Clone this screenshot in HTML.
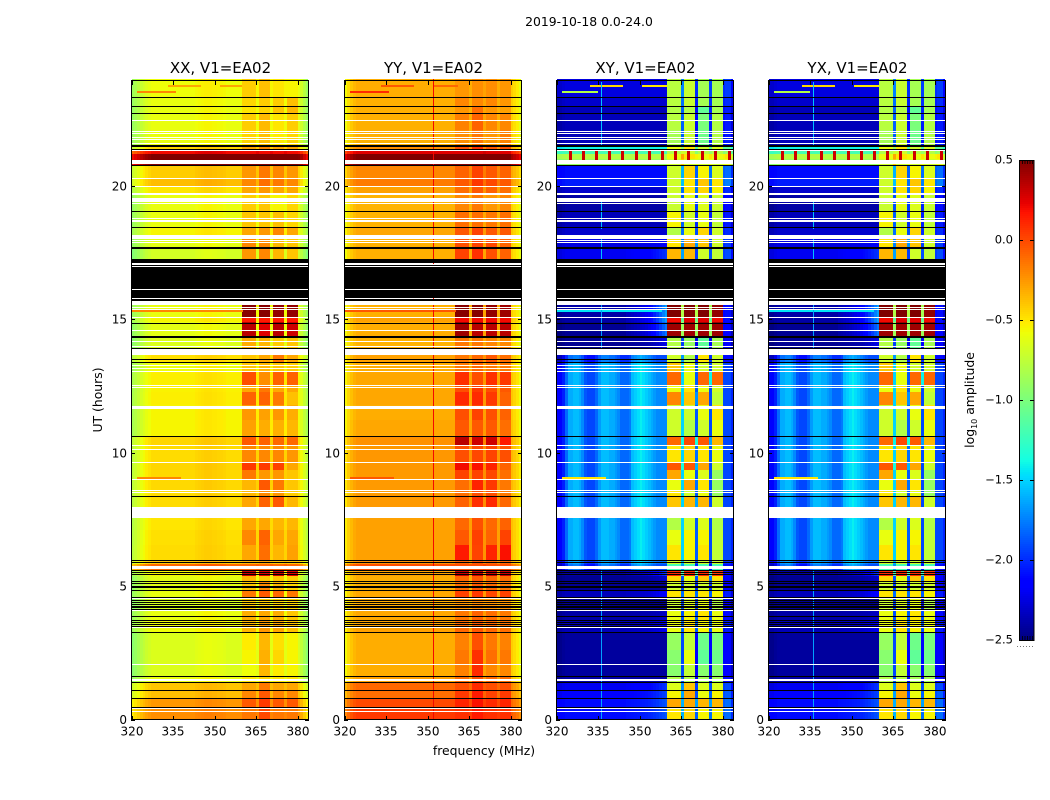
<!DOCTYPE html>
<html>
<head>
<meta charset="utf-8">
<title>2019-10-18 0.0-24.0</title>
<style>
html,body{margin:0;padding:0;background:#fff;width:1050px;height:800px;overflow:hidden}
svg{display:block}
text{font-family:"DejaVu Sans","Liberation Sans",sans-serif;fill:#000}
.tick{font-size:12px}
.title{font-size:15px}
.label{font-size:12.4px}
</style>
</head>
<body>
<svg id="chart" width="1050" height="800" viewBox="0 0 1050 800" xmlns="http://www.w3.org/2000/svg">
<rect x="0" y="0" width="1050" height="800" fill="#fff"/>
<text x="589" y="26" text-anchor="middle" style="font-size:12.4px">2019-10-18 0.0-24.0</text>
<text x="0" y="0" class="label" text-anchor="middle" transform="translate(102,400) rotate(-90)">UT (hours)</text>
<text x="484" y="755" class="label" text-anchor="middle">frequency (MHz)</text>
<text x="0" y="0" class="label" text-anchor="middle" transform="translate(974,400) rotate(-90)">log<tspan dy="3" style="font-size:8px">10</tspan><tspan dy="-3"> amplitude</tspan></text>
<g id="panels"></g>
<g id="colorbar"></g>
</svg>
<script>
// ---- Axis tick data ----
const xTickValues = [320, 335, 350, 365, 380];
const yTickValues = [0, 5, 10, 15, 20];
const colorbarTicks = [0.5, 0, -0.5, -1, -1.5, -2, -2.5];
const colorbarLabels = ["0.5", "0.0", "\u22120.5", "\u22121.0", "\u22121.5", "\u22122.0", "\u22122.5"];

// ---- Time rows: edges in UT hours, top to bottom ----
const rowEdges = [24,23.33,23,22.73,22.1,21.53,21.35,21.2,21,20.78,20.3,20,19.7,19.06,18.46,18.16,17.71,17.26,15.69,15.54,15.05,14.9,14.38,13.92,13.66,13.4,13.03,12.54,12.27,11.79,11.23,10.63,10.29,9.65,9.35,8.98,8.6,8.34,7.96,7.55,7.1,6.54,5.98,5.83,5.6,5.38,5.19,4.85,4.55,4.1,3.69,3.28,2.6,2.08,1.63,1.41,1.11,0.81,0.47,0];

// ---- Frequency channels (1 MHz each, from 320 MHz); subband index of each channel, -1 = none ----
const firstChannelMHz = 320;
const subbandOfChannel = [-1,-1,-1,-1,-1,-1,-1,-1,-1,-1,-1,-1,-1,-1,-1,-1,-1,-1,-1,-1,-1,-1,-1,-1,-1,-1,-1,-1,-1,-1,-1,-1,-1,-1,-1,-1,-1,-1,-1,-1,0,0,0,0,0,-1,1,1,1,1,-1,2,2,2,2,-1,3,3,3,3,-1,-1,-1,-1];

// ---- XX: log10 amplitude ----
const xxSpectrum = [-.3,-.25,-.2,-.14,-.1,-.06,-.03,0,0,0,0,0,0,0,0,0,0,0,0,0,0,0,0,.02,.03,.04,.05,.05,.05,.04,.04,.03,.03,.02,0,0,0,0,0,0,0,0,0,0,0,.03,0,0,0,0,.03,0,0,0,0,.03,0,0,0,0,-.02,-.1,-.2,-.3];
const xxRowLevels = [-.58,-.6,-.6,-.6,-.6,-.45,.2,.5,.5,-.42,-.37,-.5,-.6,-.6,-.55,-.62,-.68,null,null,-.6,-.55,-.62,-.65,null,-.48,-.58,-.53,-.54,-.53,-.55,-.55,-.45,-.47,-.45,-.46,-.46,-.47,-.47,null,-.5,-.48,-.47,-.4,-.1,-.55,-.62,-.62,-.6,-.65,-.6,-.58,-.65,-.65,-.65,-.6,-.4,-.38,-.25,-.22];
const xxSubbands = [[-.42,-.38,-.5,-.55],[-.45,-.42,-.42,-.38],[-.5,-.45,-.4,-.35],[-.42,-.36,-.5,-.42],[-.45,-.38,-.52,-.45],[-.3,-.2,-.3,-.3],[.2,.2,.2,.2],[.5,.5,.5,.5],[.5,.5,.5,.5],[-.25,-.15,-.2,-.25],[-.2,-.12,-.15,-.2],[-.3,-.25,-.3,-.3],[-.42,-.4,-.55,-.45],[-.4,-.4,-.38,-.45],[-.3,-.25,-.2,-.3],[-.2,-.2,-.35,-.4],[-.25,-.2,-.35,-.4],null,null,[.48,.48,.45,.45],[.15,.15,.15,.15],[.35,.25,.35,.3],[-.32,-.35,-.42,-.4],null,[-.4,-.3,-.15,-.3],[-.4,-.35,-.4,-.42],[-.02,-.22,-.08,-.08],[-.3,-.15,-.3,-.3],[-.08,-.08,-.15,-.38],[-.25,-.28,-.25,-.32],[-.28,-.32,-.33,-.35],[-.05,-.08,-.1,-.1],[-.2,-.2,-.2,-.25],[.05,.05,.02,-.3],[-.15,-.25,-.25,-.4],[-.35,-.05,-.15,-.4],[-.35,-.2,-.25,-.42],[-.3,-.08,-.05,-.35],null,[-.3,-.3,-.35,-.35],[-.2,-.08,-.3,-.3],[-.3,-.12,-.35,-.28],[-.35,-.3,-.4,-.4],[-.1,-.1,-.1,-.1],[.3,.25,.3,.25],[-.35,-.4,-.4,-.42],[-.4,-.2,-.35,-.45],[-.15,-.05,-.1,-.15],[-.42,-.42,-.45,-.45],[-.32,-.3,-.32,-.4],[-.35,-.25,-.3,-.38],[-.52,-.35,-.48,-.55],[-.55,-.33,-.45,-.55],[-.58,-.35,-.52,-.55],[-.5,-.45,-.5,-.5],[-.3,-.15,-.3,-.3],[-.2,-.05,-.2,-.2],[-.05,.05,-.05,-.05],[-.15,0,-.15,-.15]];
const xxStreaks = [[23.8,333,345,-.3],[23.8,352,360,-.3],[23.56,322,336,-.2],[15.35,320,360,-.2],[9.09,322,338,-.2]];

// ---- YY: log10 amplitude ----
const yySpectrum = [-.25,-.15,-.08,-.03,0,0,0,0,0,0,0,0,0,0,0,0,0,0,0,0,0,0,0,0,0,0,0,0,0,0,0,0,0,0,0,0,0,0,0,0,0,0,0,0,0,0,0,0,0,0,.04,0,0,0,0,0,0,0,0,0,-.1,-.15,-.2,-.28];
const yyRowLevels = [-.32,-.33,-.33,-.33,-.33,-.22,.25,.5,.5,-.2,-.16,-.28,-.34,-.34,-.3,-.33,-.33,null,null,-.33,-.28,-.32,-.34,null,-.28,-.32,-.3,-.3,-.3,-.32,-.3,-.23,-.25,-.25,-.26,-.26,-.26,-.26,null,-.28,-.28,-.28,-.23,-.02,-.28,-.32,-.32,-.3,-.32,-.3,-.28,-.32,-.32,-.32,-.28,-.1,-.12,0,.05];
const yySubbands = [[-.25,-.22,-.22,-.25],[-.2,-.2,-.2,-.25],[-.25,-.12,-.25,-.28],[-.18,-.08,-.2,-.2],[-.22,-.15,-.25,-.18],[-.02,.08,-.05,-.02],[.25,.25,.25,.25],[.5,.5,.5,.5],[.5,.5,.5,.5],[-.08,.02,-.05,-.08],[-.05,.06,0,-.05],[-.12,-.05,-.08,-.12],[-.2,-.15,-.25,-.2],[-.12,-.12,-.15,-.12],[-.05,.02,-.05,-.05],[-.02,.02,0,-.08],[.02,.08,-.02,-.08],null,null,[.48,.48,.45,.42],[.2,.2,.2,.2],[.42,.35,.35,.35],[-.15,-.15,-.2,-.2],null,[-.15,-.1,-.05,-.12],[-.15,-.1,-.15,-.15],[.08,-.02,.08,.05],[-.02,.05,-.02,-.05],[.1,.1,.05,-.08],[-.02,.02,-.02,-.08],[-.05,-.05,-.05,-.12],[.35,.3,.3,.15],[-.02,0,.02,-.02],[.2,.18,.12,-.08],[.02,.02,0,-.12],[-.12,.12,.05,-.15],[-.12,-.02,-.02,-.15],[-.08,.08,.1,-.1],null,[-.1,-.02,-.1,-.08],[-.05,.03,-.08,.02],[.15,.02,.12,.18],[-.1,-.05,-.1,-.1],[-.02,-.02,-.02,-.02],[.3,.3,.3,.3],[-.1,-.05,-.1,-.12],[-.12,-.05,-.1,-.15],[.02,.05,0,.02],[-.25,-.22,-.25,-.25],[-.15,-.08,-.12,-.15],[-.1,-.05,-.1,-.12],[-.18,-.02,-.15,-.18],[-.15,.08,-.12,-.15],[-.18,.1,-.2,-.2],[-.12,-.02,-.1,-.12],[-.02,.1,-.02,-.02],[.05,.15,.02,.05],[.12,.18,.1,.12],[.08,.15,.08,.08]];
const yyStreaks = [[23.8,333,345,-.05],[23.8,352,361,-.1],[23.56,322,336,.1],[15.35,320,360,-.05],[9.09,322,338,-.05]];

// ---- XY / YX: log10 amplitude, stripes and ramp weighted per row ----
const crossSpectrum = [-.05,-.05,-.02,0,0,0,0,0,0,0,0,0,0,0,0,0,0,0,0,0,0,0,0,0,0,0,0,0,0,0,0,0,0,0,0,0,0,0,0,0,0,0,0,0,0,.5,0,0,0,0,.25,0,0,0,0,.3,0,0,0,0,.25,.3,.3,.1];
const crossStripes = [-.5,-.5,-.4,-.2,0,0,.05,.05,0,-.1,-.25,-.3,-.3,-.3,-.2,-.05,.05,.05,.05,0,0,-.05,-.1,-.2,-.2,-.2,-.15,.05,.1,.15,.2,.15,.1,.05,0,-.05,-.1,-.1,-.1,-.1,-.1,0,0,0,0,-.38,0,0,0,0,-.5,0,0,0,0,-.6,0,0,0,0,-.55,-.6,-.6,-.5];
const crossRamp = [0,0,0,0,0,0,0,0,0,0,0,0,0,0,0,0,0,0,0,0,0,0,0,0,0,.05,.06,.08,.1,.12,.15,.17,.2,.25,.3,.37,.45,.55,.65,.75,.85,0,0,0,0,0,0,0,0,0,0,0,0,0,0,0,0,0,0,0,0,0,0,0];
const crossStripeWeights = [0,0,0,0,0,0,0,0,0,0,0,0,0,0,0,0,0,0,0,0,0,0,0,0,1,1,1,1,1,1,1,1,1,1,1,1,1,1,0,1,1,1,1,1,0,0,0,0,0,0,0,0,0,0,0,0,0,0,0];
const crossRampWeights = [0,0,0,0,0,0,0,0,0,0,0,0,0,0,0,.1,.3,0,0,1,1,.9,.3,0,0,0,0,0,0,0,0,0,0,0,0,0,0,0,0,0,0,0,0,0,.6,.2,0,.3,0,.1,.2,0,0,0,0,.3,.3,.3,.3];
const xyRowLevels = [-2.25,-2.3,-2.35,-2.35,-2.35,-1.4,-1.2,-.8,-.9,-2.1,-2.05,-2.3,-2.4,-2.35,-2.3,-2.25,-2.2,null,null,-2.4,-2.4,-2.45,-2.45,null,-1.8,-1.62,-1.62,-1.62,-1.62,-1.62,-1.62,-1.62,-1.62,-1.62,-1.62,-1.62,-1.62,-1.62,null,-1.62,-1.62,-1.62,-1.68,-1.8,-2.4,-2.45,-2.45,-2.35,-2.45,-2.4,-2.35,-2.42,-2.42,-2.42,-2.4,-2.2,-2.15,-2.1,-2.1];
const xySubbands = [[-.78,-.72,-.85,-.85],[-.78,-.72,-.85,-.85],[-.8,-.8,-1.1,-.85],[-.78,-.72,-1,-.8],[-.85,-.72,-1.05,-.8],[-.6,-.5,-.7,-.65],[-.8,-.7,-.8,-.8],[-.6,-.5,-.6,-.6],[-.7,-.7,-.7,-.7],[-.7,-.45,-.55,-.65],[-.7,-.5,-.4,-.5],[-.7,-.5,-.45,-.55],[-.72,-.62,-.65,-.72],[-.55,-.7,-.6,-.75],[-.8,-.6,-.45,-.7],[-.5,-.3,-.4,-.7],[-.35,-.35,-.7,-.75],null,null,[.5,.5,.5,.45],[.2,.25,.25,.2],[.42,.42,.42,.42],[-.8,-.9,-1.1,-.85],null,[-.7,-.8,-.5,-.7],[-.4,-.6,-.7,-.7],[-.1,-.6,-.1,-.1],[-.6,-.5,-.6,-.7],[-.2,-.4,-.3,-.75],[-.7,-.7,-.6,-.5],[-.7,-.8,-.7,-.6],[-.1,0,-.05,-.35],[-.5,-.45,-.5,-.6],[-.05,-.05,-.3,-.7],[-.3,-.6,-.65,-.9],[-.6,-.3,-.5,-.9],[-.5,-.7,-.6,-.9],[-.4,-.35,-.35,-.7],null,[-.8,-.7,-.65,-.8],[-.6,-.55,-.55,-.75],[-.5,-.55,-.5,-.75],[-.7,-.7,-.7,-.7],[-1.2,-1.2,-1.2,-1.2],[.1,.1,.1,.05],[-.45,-.6,-.4,-.5],[-.7,-.7,-.7,-.7],[-.5,-.5,-.5,-.55],[-.7,-.65,-.6,-.8],[-.6,-.55,-.5,-.6],[-.6,-.5,-.55,-.6],[-.9,-.75,-1.05,-1],[-.95,-.6,-1.1,-1.05],[-.95,-.75,-.95,-.95],[-.8,-.8,-.85,-.85],[-.65,-.4,-.65,-.65],[-.55,-.3,-.6,-.55],[-.3,-.3,-.35,-.35],[-.5,-.45,-.55,-.55]];
const xyStreaks = [[23.8,332,344,-.45],[23.8,351,360,-.5],[23.56,322,335,-.8],[15.35,320,358,-1.45],[9.09,322,338,-.5]];
const yxRowLevels = [-2.25,-2.3,-2.35,-2.35,-2.35,-1.4,-1.2,-.8,-.9,-2.1,-2.05,-2.3,-2.4,-2.35,-2.3,-2.25,-2.2,null,null,-2.4,-2.4,-2.45,-2.45,null,-1.8,-1.62,-1.62,-1.62,-1.62,-1.62,-1.62,-1.62,-1.62,-1.62,-1.62,-1.62,-1.62,-1.62,null,-1.62,-1.62,-1.62,-1.68,-1.8,-2.4,-2.45,-2.45,-2.35,-2.45,-2.4,-2.35,-2.42,-2.42,-2.42,-2.4,-2.2,-2.15,-2.1,-2.1];
const yxSubbands = [[-.78,-.72,-.85,-.85],[-.78,-.72,-.85,-.85],[-.8,-.8,-1.1,-.85],[-.78,-.72,-1,-.8],[-.85,-.72,-1.05,-.8],[-.6,-.5,-.7,-.65],[-.8,-.7,-.8,-.8],[-.6,-.5,-.6,-.6],[-.7,-.7,-.7,-.7],[-.7,-.45,-.55,-.65],[-.7,-.5,-.4,-.5],[-.7,-.5,-.45,-.55],[-.72,-.62,-.65,-.72],[-.55,-.7,-.6,-.75],[-.8,-.6,-.45,-.7],[-.5,-.3,-.4,-.7],[-.35,-.35,-.7,-.75],null,null,[.5,.5,.5,.45],[.2,.25,.25,.2],[.42,.42,.42,.42],[-.8,-.9,-1.1,-.85],null,[-.7,-.8,-.5,-.7],[-.4,-.6,-.7,-.7],[-.1,-.6,-.1,-.1],[-.6,-.5,-.6,-.7],[-.2,-.4,-.3,-.75],[-.7,-.7,-.6,-.5],[-.7,-.8,-.7,-.6],[-.1,0,-.05,-.35],[-.5,-.45,-.5,-.6],[-.05,-.05,-.3,-.7],[-.3,-.6,-.65,-.9],[-.6,-.3,-.5,-.9],[-.5,-.7,-.6,-.9],[-.4,-.35,-.35,-.7],null,[-.8,-.7,-.65,-.8],[-.6,-.55,-.55,-.75],[-.5,-.55,-.5,-.75],[-.7,-.7,-.7,-.7],[-1.2,-1.2,-1.2,-1.2],[.1,.1,.1,.05],[-.45,-.6,-.4,-.5],[-.7,-.7,-.7,-.7],[-.5,-.5,-.5,-.55],[-.7,-.65,-.6,-.8],[-.6,-.55,-.5,-.6],[-.6,-.5,-.55,-.6],[-.9,-.75,-1.05,-1],[-.95,-.6,-1.1,-1.05],[-.95,-.75,-.95,-.95],[-.8,-.8,-.85,-.85],[-.65,-.4,-.65,-.65],[-.55,-.3,-.6,-.55],[-.3,-.3,-.35,-.35],[-.5,-.45,-.55,-.55]];
const yxStreaks = [[23.8,332,344,-.45],[23.8,351,360,-.5],[23.56,322,335,-.8],[15.35,320,358,-1.45],[9.09,322,338,-.5]];

// ---- Narrow-band interference: [frequency, hour top, hour bottom, value] ----
const yyInterference = [[351.9,24,0,.2]];
const crossInterference = [[336,23.9,21.5,-1.55],[336,19.5,18.4,-1.55],[336,18,17.26,-1.55],[336,15.6,13.66,-1.65],[336,5.6,0,-1.65]];
// Periodic spots in the 21.1 h burst
const burstSpotFreqs = [324.8,329.6,334.2,339,343.8,348.6,353.4,358.2,362.8,367.6,372.4,377.2,382.4];
const burstSpotHour = [21.32,20.98];
const burstSpotValue = 0.3;

// ---- Flagged time ranges (shared by all panels), in hours ----
const whiteLines = [22.47,22.05,21.97,21.84,21.77,21.62,21.35,20.28,19.98,19.37,18.81,17.97,17.9,17.08,16.99,16.12,15.77,15.47,15.4,15.09,14.59,14.18,14.01,13.29,13.19,13.05,12.54,12.47,11.75,10.28,10.13,9.64,9.03,8.52,3.47,2.07,.42,.31];
const whiteBands = [[20.97,20.82],[19.72,19.66],[19.54,19.41],[18.73,18.65],[18.16,18.02],[15.69,15.52],[13.9,13.66],[11.7,11.65],[8.62,8.57],[7.95,7.55],[5.75,5.64],[4.59,4.5],[4.1,4.07],[1.52,1.43]];
const blackLines = [23.33,22.98,22.72,21.38,20.78,19.05,18.45,14.87,13.92,13.52,13.39,10.61,8.37,5.99,5.9,5.6,5.53,5.46,5.18,5.1,4.84,4.6,4.47,4.4,4.34,4.27,4.21,4.14,3.89,3.74,3.67,3.59,3.52,3.27,1.62,1.41,1.09,.48];
const blackBands = [[21.53,21.45],[17.71,17.63],[17.26,17.11],[17.05,17.01],[16.96,16.15],[16.1,15.8],[15.75,15.7],[14.37,14.3],[5,4.92],[.82,.77]];

// ---- Panels ----
const panelNames = ["XX", "YY", "XY", "YX"];
const panelTitles = ["XX, V1=EA02", "YY, V1=EA02", "XY, V1=EA02", "YX, V1=EA02"];

const NS = "http://www.w3.org/2000/svg";
const PANEL_LEFT = [131, 344, 556, 768];
const PANEL_WIDTH = 177;
const MHZ_PX = 2.77;
const HOUR_PX = 26.68;
const Y_ZERO = 719.5;

function make(tag, attrs, parent) {
  const el = document.createElementNS(NS, tag);
  for (const k in attrs) el.setAttribute(k, attrs[k]);
  parent.appendChild(el);
  return el;
}
function xScale(left, mhz) { return left + 0.5 + (mhz - firstChannelMHz) * MHZ_PX; }
function yScale(hour) { return Y_ZERO - hour * HOUR_PX; }
function clamp01(t) { return Math.max(0, Math.min(1, t)); }
function jet(value) {
  const t = clamp01((value + 2.5) / 3);
  let r, g, b;
  r = t < .35 ? 0 : t < .66 ? (t - .35) / .31 : t < .89 ? 1 : 1 - .5 * (t - .89) / .11;
  g = t < .125 ? 0 : t < .375 ? (t - .125) / .25 : t < .64 ? 1 : t < .91 ? 1 - (t - .64) / .27 : 0;
  b = t < .11 ? .5 + .5 * t / .11 : t < .34 ? 1 : t < .65 ? 1 - (t - .34) / .31 : 0;
  return "rgb(" + Math.round(r * 255) + "," + Math.round(g * 255) + "," + Math.round(b * 255) + ")";
}

const panelSeries = {
  XX: { levels: xxRowLevels, subbands: xxSubbands, spectrum: xxSpectrum, streaks: xxStreaks, interference: [], cross: false },
  YY: { levels: yyRowLevels, subbands: yySubbands, spectrum: yySpectrum, streaks: yyStreaks, interference: yyInterference, cross: false },
  XY: { levels: xyRowLevels, subbands: xySubbands, spectrum: crossSpectrum, streaks: xyStreaks, interference: crossInterference, cross: true },
  YX: { levels: yxRowLevels, subbands: yxSubbands, spectrum: crossSpectrum, streaks: yxStreaks, interference: crossInterference, cross: true }
};

function cellValue(s, r, c) {
  const band = subbandOfChannel[c];
  if (band >= 0) return s.subbands[r][band];
  let v = s.levels[r] + s.spectrum[c];
  if (s.cross) v += crossStripeWeights[r] * crossStripes[c] + crossRampWeights[r] * crossRamp[c];
  const left = subbandOfChannel[c - 1], right = subbandOfChannel[c + 1];
  if (left >= 0 && right >= 0) {
    v = Math.max(v, Math.min(s.subbands[r][left], s.subbands[r][right]) - 1.3);
  }
  return v;
}

function hBand(parent, left, hourTop, hourBottom, color, name) {
  const y0 = Math.round(yScale(hourTop));
  const y1 = Math.max(y0 + 1, Math.round(yScale(hourBottom)));
  const el = make("rect", { x: left + 1, y: y0, width: PANEL_WIDTH - 1, height: y1 - y0, fill: color }, parent);
  
  
}

const panelsGroup = document.getElementById("panels");
panelNames.forEach(function (name, p) {
  const left = PANEL_LEFT[p];
  const s = panelSeries[name];
  const g = make("g", { "shape-rendering": "crispEdges" }, panelsGroup);
  
  

  // heatmap cells
  for (let r = 0; r < s.levels.length; r++) {
    if (s.levels[r] === null) continue;
    const y0 = Math.round(yScale(rowEdges[r]));
    const y1 = Math.round(yScale(rowEdges[r + 1]));
    for (let c = 0; c < subbandOfChannel.length; c++) {
      const x0 = Math.round(xScale(left, firstChannelMHz + c));
      const x1 = Math.round(xScale(left, firstChannelMHz + c + 1));
      const w = Math.min(x1, left + PANEL_WIDTH) - x0;
      if (w <= 0) continue;
      const cell = make("rect", { x: x0, y: y0, width: w, height: y1 - y0, fill: jet(cellValue(s, r, c)) }, g);
      
      
    }
  }

  // streaks along single integrations
  s.streaks.forEach(function (st) {
    const el = make("rect", { x: Math.round(xScale(left, st[1])), y: Math.round(yScale(st[0])), width: Math.round((st[2] - st[1]) * MHZ_PX), height: 2, fill: jet(st[3]) }, g);
    
    
  });

  // vertical interference lines
  s.interference.forEach(function (seg) {
    const y0 = Math.round(yScale(seg[1])), y1 = Math.round(yScale(seg[2]));
    const el = make("rect", { x: Math.round(xScale(left, seg[0])), y: y0, width: 1, height: y1 - y0, fill: jet(seg[3]) }, g);
    
    
  });

  // burst spots in the cross-hand panels
  if (s.cross) {
    burstSpotFreqs.forEach(function (f) {
      const y0 = Math.round(yScale(burstSpotHour[0])), y1 = Math.round(yScale(burstSpotHour[1]));
      const el = make("rect", { x: Math.round(xScale(left, f)) - 1, y: y0, width: 3, height: y1 - y0, fill: jet(burstSpotValue) }, g);
      
      
    });
  }

  // flagged data
  whiteBands.forEach(function (b) { hBand(g, left, b[0], b[1], "#fff", "flag-gap"); });
  whiteLines.forEach(function (h) { hBand(g, left, h, h - 0.03, "#fff", "flag-gap"); });
  blackBands.forEach(function (b) { hBand(g, left, b[0], b[1], "#000", "flag-band"); });
  blackLines.forEach(function (h) { hBand(g, left, h, h - 0.03, "#000", "flag-line"); });

  // frame
  const frame = make("rect", { x: left + 0.5, y: 80.5, width: PANEL_WIDTH, height: 639, fill: "none", stroke: "#000", "stroke-width": 1 }, g);
  
  

  // x ticks
  xTickValues.forEach(function (v) {
    const x = Math.round(xScale(left, v)) + 0.5;
    [[720, 716], [81, 85]].forEach(function (pair) {
      const t = make("line", { x1: x, x2: x, y1: pair[0], y2: pair[1], stroke: "#000", "stroke-width": 1 }, g);
      
      
    });
    const label = make("text", { x: x - 0.5, y: 735.5, "text-anchor": "middle", class: "tick" }, panelsGroup);
    label.textContent = String(v);
    
    
  });

  // y ticks
  yTickValues.forEach(function (v) {
    const y = Math.round(yScale(v)) + 0.5;
    [[left, left + 4], [left + PANEL_WIDTH + 1, left + PANEL_WIDTH - 3]].forEach(function (pair) {
      const t = make("line", { x1: pair[0], x2: pair[1], y1: y, y2: y, stroke: "#000", "stroke-width": 1 }, g);
      
      
    });
    const label = make("text", { x: left - 4, y: Math.min(y + 4, 724), "text-anchor": "end", class: "tick" }, panelsGroup);
    label.textContent = String(v);
    
    
  });

  // panel title
  const title = make("text", { x: left + PANEL_WIDTH / 2 + 1, y: 73, "text-anchor": "middle", class: "title" }, panelsGroup);
  title.textContent = panelTitles[p];
  
  
});

// ---- Colorbar ----
const cbGroup = document.getElementById("colorbar");
const CB_LEFT = 1019, CB_WIDTH = 15, CB_TOP = 160, CB_PX_PER_UNIT = 160;
function cbScale(v) { return CB_TOP + (0.5 - v) * CB_PX_PER_UNIT; }
const cbCells = make("g", { "shape-rendering": "crispEdges" }, cbGroup);


for (let i = 0; i < 240; i++) {
  const v = 0.5 - (i + 0.5) * 2 / CB_PX_PER_UNIT;
  const cell = make("rect", { x: CB_LEFT, y: CB_TOP + i * 2, width: CB_WIDTH, height: 2, fill: jet(v) }, cbCells);
  
  
}
const cbFrame = make("rect", { x: CB_LEFT + 0.5, y: CB_TOP + 0.5, width: CB_WIDTH - 0.5, height: 480, fill: "none", stroke: "#000", "stroke-width": 1 }, cbGroup);


colorbarTicks.forEach(function (v, i) {
  const y = Math.round(cbScale(v)) + 0.5;
  [[CB_LEFT, CB_LEFT + 4], [CB_LEFT + CB_WIDTH, CB_LEFT + CB_WIDTH - 4]].forEach(function (pair) {
    const t = make("line", { x1: pair[0], x2: pair[1], y1: y, y2: y, stroke: "#000", "stroke-width": 1 }, cbGroup);
    
    
  });
  const label = make("text", { x: 1013, y: y + 3, "text-anchor": "end", class: "tick", style: "font-size:11.5px" }, cbGroup);
  label.textContent = colorbarLabels[i];
  
  
});
for (let i = 0; i < 5; i++) {
  [[161, 164], [636, 640]].forEach(function (pair) {
    const t = make("line", { x1: CB_LEFT + 3.5 + i * 2.5, x2: CB_LEFT + 3.5 + i * 2.5, y1: pair[0], y2: pair[1], stroke: "#000", "stroke-width": 0.8 }, cbGroup);
    
    
  });
}
const dots = make("line", { x1: 1017, x2: 1035, y1: 646.5, y2: 646.5, stroke: "#777", "stroke-width": 1, "stroke-dasharray": "1 2" }, cbGroup);


</script>
</body>
</html>
